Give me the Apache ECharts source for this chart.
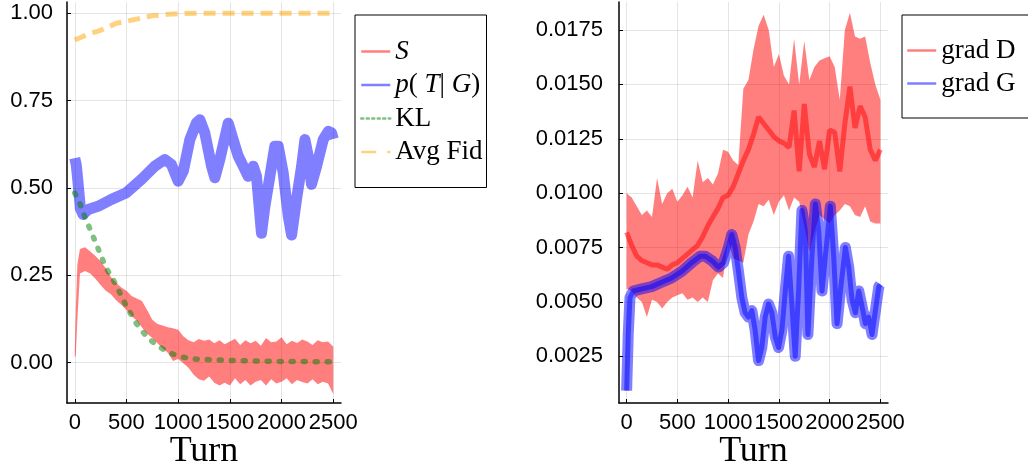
<!DOCTYPE html>
<html>
<head>
<meta charset="utf-8">
<script src="https://cdn.jsdelivr.net/npm/echarts@6/dist/echarts.min.js"></script>
<style>html,body{margin:0;padding:0;background:#fff;}#c{width:1028px;height:469px;}</style>
</head>
<body>
<div id="c"></div>
<script>
// ---------- tick labels ----------
var xTicks = [0, 500, 1000, 1500, 2000, 2500];
var leftYTicks = [0, 0.25, 0.5, 0.75, 1.0];
var rightYTicks = [0.0025, 0.005, 0.0075, 0.01, 0.0125, 0.015, 0.0175];

// ---------- left panel ----------
var S_x = [0,10,25,50,100,150,200,250,300,350,400,450,500,550,600,650,700,750,800,850,900,950,1000,1050,1100,1150,1200,1250,1300,1350,1400,1450,1500,1550,1600,1650,1700,1750,1800,1850,1900,1950,2000,2050,2100,2150,2200,2250,2300,2350,2400,2450,2500];
var S_hi = [0.03,0.15,0.28,0.325,0.33,0.318,0.305,0.29,0.27,0.245,0.228,0.215,0.205,0.19,0.183,0.176,0.15,0.122,0.11,0.106,0.101,0.098,0.094,0.075,0.064,0.058,0.067,0.062,0.066,0.055,0.064,0.052,0.06,0.068,0.05,0.064,0.055,0.062,0.048,0.07,0.058,0.06,0.072,0.052,0.062,0.056,0.066,0.06,0.05,0.064,0.058,0.06,0.045];
var S_lo = [0.015,0.02,0.12,0.255,0.262,0.255,0.24,0.222,0.205,0.195,0.178,0.165,0.15,0.132,0.12,0.1,0.082,0.07,0.055,0.04,0.028,0.004,0.01,-0.002,-0.015,-0.035,-0.048,-0.052,-0.04,-0.058,-0.066,-0.058,-0.066,-0.045,-0.062,-0.05,-0.066,-0.055,-0.05,-0.066,-0.048,-0.06,-0.055,-0.045,-0.062,-0.05,-0.056,-0.06,-0.048,-0.062,-0.055,-0.06,-0.09];

var PTG_x = [0,15,32,55,80,130,225,355,500,645,775,870,935,1000,1050,1113,1177,1210,1258,1323,1355,1403,1484,1532,1581,1629,1677,1726,1758,1806,1839,1887,1935,1968,2016,2065,2097,2145,2194,2226,2258,2290,2339,2403,2452,2484,2500];
var PTG_y = [0.585,0.565,0.514,0.44,0.424,0.438,0.447,0.467,0.486,0.524,0.562,0.581,0.567,0.519,0.548,0.638,0.686,0.695,0.657,0.562,0.529,0.581,0.685,0.638,0.591,0.562,0.533,0.562,0.533,0.37,0.447,0.533,0.619,0.619,0.543,0.419,0.365,0.467,0.562,0.638,0.591,0.51,0.562,0.638,0.662,0.657,0.64];

var KL_x = [0,50,100,150,200,300,400,500,600,700,800,900,1000,1100,1200,1400,1600,2000,2500];
var KL_y = [0.485,0.455,0.415,0.38,0.345,0.272,0.222,0.16,0.11,0.072,0.048,0.03,0.018,0.012,0.009,0.007,0.005,0.003,0.002];

var Fid_x = [0,113,242,403,597,759,953,1200,1500,2000,2500];
var Fid_y = [0.923,0.938,0.95,0.971,0.983,0.993,0.998,1.0,1.0,1.0,1.0];

// ---------- right panel ----------
var D_x = [0,50,100,150,200,250,300,350,400,450,500,550,600,650,700,750,800,850,900,950,1000,1050,1100,1150,1200,1250,1300,1350,1400,1450,1500,1550,1600,1650,1700,1750,1800,1850,1900,1950,2000,2050,2100,2150,2200,2250,2300,2350,2400,2450,2500];
var D_hi = [0.0100,0.0098,0.0094,0.0090,0.0092,0.0089,0.0107,0.0095,0.0100,0.0102,0.0096,0.0099,0.0103,0.0098,0.0115,0.0105,0.0107,0.0104,0.0109,0.0120,0.0119,0.0115,0.0113,0.0148,0.0152,0.0166,0.0177,0.0182,0.0175,0.0158,0.0164,0.0154,0.0150,0.0171,0.0150,0.0170,0.0152,0.0158,0.0161,0.0162,0.0163,0.0158,0.0143,0.0175,0.0183,0.0172,0.0171,0.0172,0.0160,0.0150,0.0143];
var D_lo = [0.0056,0.0055,0.0052,0.0050,0.0043,0.0051,0.0050,0.0047,0.0050,0.0052,0.0053,0.0054,0.0051,0.0052,0.0050,0.0052,0.0050,0.0060,0.0063,0.0061,0.0078,0.0070,0.0069,0.0068,0.0081,0.0087,0.0095,0.0094,0.0097,0.0090,0.0096,0.0099,0.0092,0.0098,0.0096,0.0085,0.0073,0.0082,0.0090,0.0088,0.0086,0.0090,0.0092,0.0095,0.0094,0.0090,0.0089,0.0094,0.0087,0.0086,0.0086];
var D_mid = [0.0082,0.0076,0.0071,0.0069,0.0068,0.0067,0.0067,0.0066,0.0065,0.0067,0.0068,0.0070,0.0072,0.0074,0.0076,0.0080,0.0085,0.0089,0.0093,0.0098,0.0099,0.0103,0.0109,0.0115,0.0120,0.0127,0.0135,0.0132,0.0129,0.0126,0.0124,0.0123,0.0121,0.0138,0.0110,0.0141,0.0118,0.0112,0.0124,0.0111,0.0129,0.0128,0.0110,0.0132,0.0149,0.0130,0.0140,0.0135,0.0120,0.0115,0.0120];

var G_x = [0,16,33,66,148,247,345,444,543,641,724,773,839,905,954,1003,1036,1069,1102,1135,1168,1201,1234,1266,1300,1332,1365,1398,1431,1464,1497,1530,1563,1595,1628,1661,1694,1727,1760,1786,1826,1859,1892,1925,1958,2007,2040,2073,2106,2155,2188,2221,2254,2287,2319,2352,2385,2418,2451,2484,2500];
var G_y = [0.00092,0.0035,0.0052,0.0055,0.0056,0.0057,0.0059,0.0061,0.0064,0.0068,0.0071,0.0071,0.0069,0.0066,0.0068,0.0075,0.0081,0.0075,0.0064,0.0052,0.0045,0.0043,0.0046,0.0037,0.0023,0.0029,0.0043,0.0049,0.0045,0.0034,0.0029,0.0037,0.0055,0.0071,0.0049,0.0025,0.0055,0.0092,0.0083,0.0035,0.0071,0.0095,0.0083,0.0055,0.0071,0.0094,0.0071,0.0040,0.0055,0.0075,0.0066,0.0051,0.0045,0.0055,0.0048,0.0040,0.0043,0.0035,0.0046,0.0057,0.0058];

// ---------- helpers ----------
function pairs(xs, ys) { return xs.map(function (x, i) { return [x, ys[i]]; }); }
function triples(xs, lo, hi) { return xs.map(function (x, i) { return [x, lo[i], hi[i]]; }); }

var RED = 'rgba(255,0,0,0.5)', BLUE = 'rgba(0,0,255,0.5)', GREEN = 'rgba(0,128,0,0.5)', ORANGE = 'rgba(255,165,0,0.5)';
var SANS = 'Liberation Sans', SERIF = 'Liberation Serif';

function xAxis(gi) {
  return {
    type: 'value', gridIndex: gi, min: -75, max: 2575, splitNumber: 5,
    name: 'Turn', nameLocation: 'middle', nameGap: 31, nameMoveOverlap: false,
    nameTextStyle: { fontFamily: SERIF, fontSize: 36, color: '#000' },
    axisLine: { show: true, onZero: false, lineStyle: { color: '#000', width: 1.5 } },
    axisTick: { show: true, inside: true, length: 4, customValues: xTicks, lineStyle: { color: '#000', width: 1 } },
    axisLabel: { customValues: xTicks, margin: 9, hideOverlap: false, showMinLabel: true, showMaxLabel: true,
      fontFamily: SANS, fontSize: 22, color: '#000', formatter: function (v) { return String(v); } },
    splitLine: { show: true, lineStyle: { color: 'rgba(0,0,0,0.1)', width: 1 } }
  };
}
function yAxis(gi, min, max, ticks, dec, margin) {
  return {
    type: 'value', gridIndex: gi, min: min, max: max,
    axisLine: { show: true, onZero: false, lineStyle: { color: '#000', width: 1.5 } },
    axisTick: { show: true, inside: true, length: 4, customValues: ticks, lineStyle: { color: '#000', width: 1 } },
    axisLabel: { customValues: ticks, margin: margin, hideOverlap: false, fontFamily: SANS, fontSize: 22, color: '#000',
      formatter: function (v) { return v.toFixed(dec); } },
    splitLine: { show: true, lineStyle: { color: 'rgba(0,0,0,0.1)', width: 1 } }
  };
}
// band between lo and hi drawn as one polygon through the axes' scales
function band(name, xi, xs, lo, hi, color) {
  var data = triples(xs, lo, hi);
  return {
    type: 'custom', name: name, xAxisIndex: xi, yAxisIndex: xi, silent: true,
    encode: { x: 0, y: [1, 2] }, data: data,
    renderItem: function (params, api) {
      if (params.dataIndexInside !== 0) return null;
      var top = [], bot = [];
      for (var i = 0; i < data.length; i++) {
        top.push(api.coord([data[i][0], data[i][2]]));
        bot.push(api.coord([data[i][0], data[i][1]]));
      }
      return { type: 'polygon', shape: { points: top.concat(bot.reverse()) }, style: { fill: color } };
    }
  };
}

var legendText = { fontFamily: SERIF, fontSize: 27, color: '#000', lineHeight: 27,
  rich: { i: { fontFamily: SERIF, fontStyle: 'italic', fontSize: 27, lineHeight: 27, color: '#000' } } };
var legendNames = { 'S': '{i|S}', 'p(T|G)': '{i|p}( {i|T}| {i|G})', 'KL': 'KL', 'Avg Fid': 'Avg Fid', 'grad D': 'grad D', 'grad G': 'grad G' };

var series = [];
series.push(band('S band', 0, S_x, S_lo, S_hi, RED));
// legend carrier for S (same colour, no data)
series.push({ type: 'line', name: 'S', xAxisIndex: 0, yAxisIndex: 0, symbol: 'none', data: [], color: RED, lineStyle: { color: RED } });
series.push({ type: 'line', name: 'p(T|G)', xAxisIndex: 0, yAxisIndex: 0, symbol: 'none', silent: true,
  data: pairs(PTG_x, PTG_y), color: BLUE, lineStyle: { width: 11, color: BLUE, join: 'round' } });
series.push({ type: 'line', name: 'KL', xAxisIndex: 0, yAxisIndex: 0, symbol: 'none', silent: true,
  data: pairs(KL_x, KL_y), color: GREEN, lineStyle: { width: 5.5, color: GREEN, type: [2, 10], cap: 'round' } });
series.push({ type: 'line', name: 'Avg Fid', xAxisIndex: 0, yAxisIndex: 0, symbol: 'none', silent: true,
  data: pairs(Fid_x, Fid_y), color: ORANGE, lineStyle: { width: 5, color: ORANGE, type: [12, 7] } });

series.push(band('grad D band', 1, D_x, D_lo, D_hi, RED));
series.push({ type: 'line', name: 'grad D', xAxisIndex: 1, yAxisIndex: 1, symbol: 'none', silent: true,
  data: pairs(D_x, D_mid), color: RED, lineStyle: { width: 5, color: RED } });
series.push({ type: 'line', name: 'grad G', xAxisIndex: 1, yAxisIndex: 1, symbol: 'none', silent: true,
  data: pairs(G_x, G_y), color: BLUE, lineStyle: { width: 11, color: BLUE, join: 'round' } });
series.push({ type: 'line', name: 'grad G core', xAxisIndex: 1, yAxisIndex: 1, symbol: 'none', silent: true,
  data: pairs(G_x, G_y), color: BLUE, lineStyle: { width: 5, color: BLUE, join: 'round' } });

function legendItem(name, type) {
  return { name: name, itemStyle: { opacity: 0 }, lineStyle: { width: 2.5, opacity: 1, type: type } };
}

var option = {
  animation: false,
  backgroundColor: '#fff',
  grid: [
    { left: 67, top: 2, width: 274, height: 401, containLabel: false, outerBoundsMode: 'none' },
    { left: 619, top: 2, width: 269, height: 401, containLabel: false, outerBoundsMode: 'none' }
  ],
  xAxis: [xAxis(0), xAxis(1)],
  yAxis: [yAxis(0, -0.116, 1.032, leftYTicks, 2, 14), yAxis(1, 0.00035, 0.01879, rightYTicks, 4, 16)],
  legend: [
    { orient: 'vertical', left: 355, top: 15, padding: [23, 4, 22, 5], itemGap: 6.5, itemWidth: 29, itemHeight: 12,
      borderColor: '#000', borderWidth: 1, backgroundColor: '#fff', selectedMode: false,
      itemStyle: { opacity: 0 }, lineStyle: { width: 2.5, opacity: 1 },
      data: [legendItem('S', 'solid'), legendItem('p(T|G)', 'solid'), legendItem('KL', [2, 3.5]), legendItem('Avg Fid', [15, 11])],
      formatter: function (n) { return legendNames[n]; }, textStyle: legendText },
    { orient: 'vertical', left: 902, top: 15, padding: [22, 20, 21, 4], itemGap: 6, itemWidth: 29, itemHeight: 12,
      borderColor: '#000', borderWidth: 1, backgroundColor: '#fff', selectedMode: false,
      itemStyle: { opacity: 0 }, lineStyle: { width: 2.5, opacity: 1 },
      data: [legendItem('grad D', 'solid'), legendItem('grad G', 'solid')],
      formatter: function (n) { return legendNames[n]; }, textStyle: legendText }
  ],
  series: series
};

var chart = echarts.init(document.getElementById('c'), null, { renderer: 'canvas' });
chart.setOption(option);
</script>
</body>
</html>
